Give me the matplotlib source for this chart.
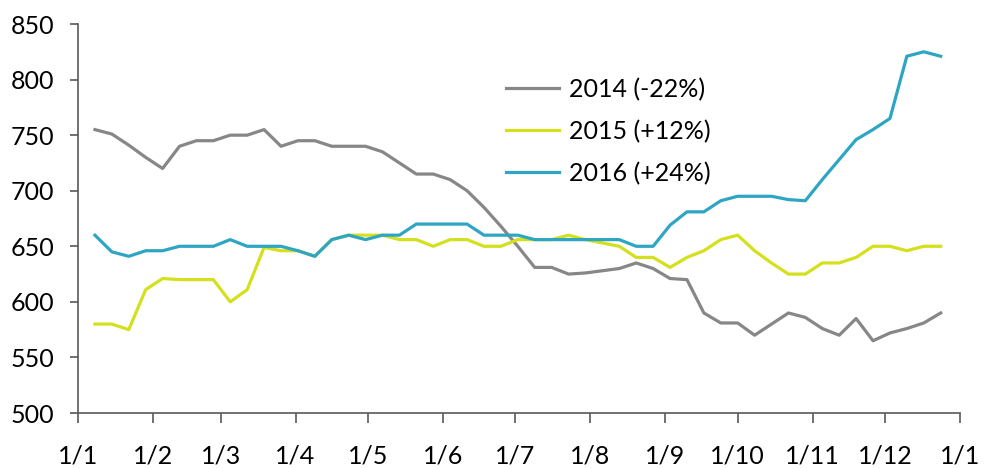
import datetime as dt
import matplotlib
matplotlib.use("Agg")
import matplotlib.pyplot as plt
import matplotlib.dates as mdates
from matplotlib.ticker import FuncFormatter

# weekly observations, first one on 8 Jan
start = dt.date(2015, 1, 8)
dates = [start + dt.timedelta(days=7 * i) for i in range(51)]

labels = ["2014 (-22%)", "2015 (+12%)", "2016 (+24%)"]
y2014 = [755, 751, 741, 730, 720, 740, 745, 745, 750, 750,
         755, 740, 745, 745, 740, 740, 740, 735, 725, 715,
         715, 710, 700, 685, 668, 650, 631, 631, 625, 626,
         628, 630, 635, 630, 621, 620, 590, 581, 581, 570,
         580, 590, 586, 576, 570, 585, 565, 572, 576, 581, 590]
y2015 = [580, 580, 575, 611, 621, 620, 620, 620, 600, 611,
         649, 646, 646, 641, 656, 660, 660, 660, 656, 656,
         650, 656, 656, 650, 650, 656, 656, 656, 660, 656,
         653, 650, 640, 640, 631, 640, 646, 656, 660, 646,
         635, 625, 625, 635, 635, 640, 650, 650, 646, 650, 650]
y2016 = [660, 645, 641, 646, 646, 650, 650, 650, 656, 650,
         650, 650, 646, 641, 656, 660, 656, 660, 660, 670,
         670, 670, 670, 660, 660, 660, 656, 656, 656, 656,
         656, 656, 650, 650, 669, 681, 681, 691, 695, 695,
         695, 692, 691, 710, 728, 746, 755, 765, 821, 825, 821]
colors = ["#878787", "#d5e01c", "#2ea6c3"]

plt.rcParams['font.family'] = ['Lato', 'DejaVu Sans']

fig = plt.figure(figsize=(9.94, 4.69), dpi=100)
ax = fig.add_axes([0.0785, 0.1194, 0.8873, 0.8294])

for ys, lab, c in zip([y2014, y2015, y2016], labels, colors):
    ax.plot(dates, ys, color=c, linewidth=2.3, label=lab)

ax.set_ylim(500, 850)
ax.set_yticks(range(500, 851, 50))
ax.set_xlim(dt.date(2015, 1, 1), dt.date(2016, 1, 1))
ax.xaxis.set_major_locator(mdates.MonthLocator())
ax.xaxis.set_major_formatter(FuncFormatter(lambda v, p: "1/%d" % mdates.num2date(v).month))

for s in ["top", "right"]:
    ax.spines[s].set_visible(False)
for s in ["left", "bottom"]:
    ax.spines[s].set_color("#595959")
    ax.spines[s].set_linewidth(1.2)
ax.tick_params(axis="both", colors="#595959", labelcolor="black", labelsize=18, width=1.2)
ax.tick_params(axis="y", length=6, pad=11)
ax.tick_params(axis="x", length=7, pad=16)

ax.legend(loc="upper left", bbox_to_anchor=(0.46, 0.92), frameon=False, fontsize=18,
          handlelength=2.1, handletextpad=0.4, labelspacing=0.75)

fig.savefig("out.png", dpi=100)
